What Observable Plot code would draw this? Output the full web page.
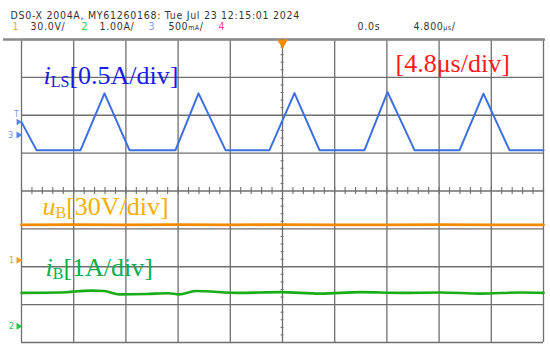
<!DOCTYPE html>
<html>
<head>
<meta charset="utf-8">
<script src="https://cdn.jsdelivr.net/npm/d3@7"></script>
<script src="https://cdn.jsdelivr.net/npm/@observablehq/plot@0.6"></script>
<style>
  html, body { margin: 0; padding: 0; background: #fff; }
  #chart svg { display: block; }
</style>
</head>
<body>
<div id="chart"></div>
<script>
// ---- Data (time in µs, 4.8 µs/div, screen = 10 div × 8 div) ----
// Channel 3: inductor current iLS (A), 0.5 A/div
const tLS  = [-24.0, -22.62, -18.57, -16.37, -14.07, -9.84, -7.72, -5.24, -1.20, 1.10, 3.40, 7.54, 9.66, 12.14, 16.28, 18.48, 20.87, 24.0];
const iLS  = [0.17, -0.20, -0.20, 0.55, -0.20, -0.20, 0.55, -0.20, -0.20, 0.553, -0.20, -0.20, 0.565, -0.20, -0.20, 0.545, -0.20, -0.20];
// Channel 1: battery voltage uB (V), 30 V/div
const tUB  = [-24.0, -19.2, -14.4, -9.6, -4.8, 0.0, 4.8, 9.6, 14.4, 19.2, 24.0];
const uB   = [28.0, 28.1, 27.9, 28.1, 28.0, 28.2, 28.0, 27.9, 28.1, 28.0, 28.0];
// Channel 2: battery current iB (A), 1 A/div
const tB   = [-24.0, -20.4, -17.6, -16.4, -15.0, -12.5, -10.5, -9.5, -8.0, -3.9, -0.2, 3.5, 7.2, 10.9, 14.5, 18.2, 21.9, 24.0];
const iB   = [0.88, 0.89, 0.94, 0.93, 0.84, 0.85, 0.87, 0.84, 0.93, 0.88, 0.90, 0.86, 0.90, 0.88, 0.89, 0.86, 0.89, 0.88];
// Channel settings: ground reference (div from screen centre) and scale per div
const chOffset = {ch1: -1.827, ch2: -3.57, ch3: 1.479};
const chScale  = {ch1: 30, ch2: 1, ch3: 0.5};
const trigLevel = 0.17; // A, on channel 3

const toDiv = (v, ch) => chOffset[ch] + v / chScale[ch];
const lsData = tLS.map((t, i) => ({t, v: toDiv(iLS[i], "ch3")}));
const ubData = tUB.map((t, i) => ({t, v: toDiv(uB[i], "ch1")}));
const ibData = tB.map((t, i) => ({t, v: toDiv(iB[i], "ch2")}));

const gridX = d3.range(-24, 24.001, 4.8);
const gridY = d3.range(-4, 4.001, 1);
const minorX = d3.range(-24, 24.001, 0.96);
const minorY = d3.range(-4, 4.001, 0.2);

const hdrFont = "'Liberation Sans Narrow', 'DejaVu Sans Condensed', 'Arial Narrow', sans-serif";
const serif = "'Liberation Serif', 'Times New Roman', serif";
const gridColor = "#6f6f6f";

function label(text, dx, dy, opts = {}) {
  return Plot.text([text], {
    frameAnchor: "top-left", text: d => d, dx, dy,
    textAnchor: "start", lineAnchor: "bottom",
    fontFamily: hdrFont, fontSize: 10.5, fill: "#333", ariaDescription: "hdr", ...opts
  });
}
function ann(text, dx, dy, fill, key) {
  return Plot.text([text], {
    frameAnchor: "top-left", text: d => d, dx, dy,
    textAnchor: "start", lineAnchor: "bottom",
    fontFamily: serif, fontSize: 26, fill, ariaDescription: key
  });
}

const chart = Plot.plot({
  width: 550, height: 351,
  marginLeft: 21, marginRight: 7, marginTop: 39, marginBottom: 9,
  x: {domain: [-24, 24], axis: null},
  y: {domain: [-4, 4], axis: null},
  style: {background: "#fff", overflow: "visible"},
  marks: [
    // grid
    Plot.ruleX(gridX, {stroke: gridColor, strokeWidth: 1.3}),
    Plot.ruleY(gridY, {stroke: gridColor, strokeWidth: 1.3}),
    Plot.ruleY([4], {stroke: "#8a8a8a", strokeWidth: 2.5, insetLeft: -18, insetRight: -2}),
    // centre-axis minor ticks
    Plot.ruleX(minorX, {y1: -0.09, y2: 0.09, stroke: gridColor, strokeWidth: 1.1}),
    Plot.ruleY(minorY, {x1: -0.13, x2: 0.13, stroke: gridColor, strokeWidth: 1.1}),
    // traces
    Plot.line(ubData, {x: "t", y: "v", stroke: "#f28a00", strokeWidth: 2.8}),
    Plot.line(ibData, {x: "t", y: "v", stroke: "#17ad17", strokeWidth: 2.6, curve: "monotone-x"}),
    Plot.line(lsData, {x: "t", y: "v", stroke: "#3c6fe0", strokeWidth: 2}),
    // trigger position marker
    Plot.dot([0], {x: d => d, y: () => 4, symbol: "triangle", rotate: 180, r: 4, fill: "#f28a00", stroke: "none", dy: 3}),
    // channel ground markers
    Plot.dot([chOffset.ch3], {x: () => -24, y: d => d, symbol: "triangle", rotate: 90, r: 2.6, fill: "#5b86e6", dx: -3}),
    Plot.text(["3"], {x: () => -24, y: () => chOffset.ch3, text: d => d, dx: -11, fill: "#6f92e8", fontSize: 9, fontFamily: hdrFont}),
    Plot.dot([toDiv(trigLevel, "ch3")], {x: () => -24, y: d => d, symbol: "triangle", rotate: 90, r: 2.4, fill: "#5b86e6", dx: -3}),
    Plot.text(["T"], {x: () => -24, y: () => toDiv(trigLevel, "ch3"), text: d => d, dx: -5, dy: -8, fill: "#6f92e8", fontSize: 8, fontFamily: hdrFont}),
    Plot.dot([chOffset.ch1], {x: () => -24, y: d => d, symbol: "triangle", rotate: 90, r: 2.6, fill: "#f5a020", dx: -3}),
    Plot.text(["1"], {x: () => -24, y: () => chOffset.ch1, text: d => d, dx: -10, fill: "#f5a020", fontSize: 9, fontFamily: hdrFont}),
    Plot.dot([chOffset.ch2], {x: () => -24, y: d => d, symbol: "triangle", rotate: 90, r: 2.6, fill: "#2fbf4a", dx: -3}),
    Plot.text(["2"], {x: () => -24, y: () => chOffset.ch2, text: d => d, dx: -10, fill: "#2fbf4a", fontSize: 9, fontFamily: hdrFont}),
    // header
    label("DS0-X 2004A, MY61260168: Tue Jul 23 12:15:01 2024", -11, -20.5),
    label("1", -9, -9.5, {fill: "#f5a623"}),
    label("30.0V/", 9, -9.5),
    label("2", 60, -9.5, {fill: "#2ecc40"}),
    label("1.00A/", 78, -9.5),
    label("3", 127, -9.5, {fill: "#7f9fe8"}),
    label("500mA/", 147, -9.5, {ariaDescription: "hdr-ma"}),
    label("4", 197, -9.5, {fill: "#f0449a"}),
    label("0.0s", 336, -9.5),
    label("4.800µs/", 392, -9.5, {ariaDescription: "hdr-us"}),
    // annotations
    ann("iLS[0.5A/div]", 22, 44, "#1b1be6", "ann-ils"),
    ann("[4.8μs/div]", 374, 32, "#ff1a1a", "ann-time"),
    ann("uB[30V/div]", 21, 175.5, "#f5b000", "ann-ub"),
    ann("iB[1A/div]", 24, 236, "#00b04f", "ann-ib")
  ]
});

// rich text: italic symbol + subscript, compact unit glyphs
function rich(svg, key, parts) {
  svg.querySelectorAll(`g[aria-description="${key}"] text`).forEach(el => {
    el.textContent = "";
    parts.forEach(p => {
      const ts = document.createElementNS("http://www.w3.org/2000/svg", "tspan");
      ts.textContent = p.t;
      if (p.it) ts.setAttribute("font-style", "italic");
      if (p.size) ts.setAttribute("font-size", p.size);
      if (p.dy) ts.setAttribute("dy", p.dy);
      el.appendChild(ts);
    });
  });
}
rich(chart, "ann-ils", [{t: "i", it: 1}, {t: "LS", size: 16, dy: 3}, {t: "[0.5A/div]", dy: -3}]);
rich(chart, "ann-ub",  [{t: "u", it: 1}, {t: "B", size: 16, dy: 3}, {t: "[30V/div]", dy: -3}]);
rich(chart, "ann-ib",  [{t: "i", it: 1}, {t: "B", size: 16, dy: 3}, {t: "[1A/div]", dy: -3}]);
rich(chart, "hdr-ma",  [{t: "500"}, {t: "mA", size: 7}, {t: "/"}]);
rich(chart, "hdr-us",  [{t: "4.800"}, {t: "µs", size: 7}, {t: "/"}]);
chart.querySelectorAll('g[aria-description="hdr"]').forEach(g => g.setAttribute("letter-spacing", "0.72"));
chart.querySelectorAll('g[aria-description^="hdr-"]').forEach(g => g.setAttribute("letter-spacing", "0.55"));

document.getElementById("chart").appendChild(chart);
</script>
</body>
</html>
